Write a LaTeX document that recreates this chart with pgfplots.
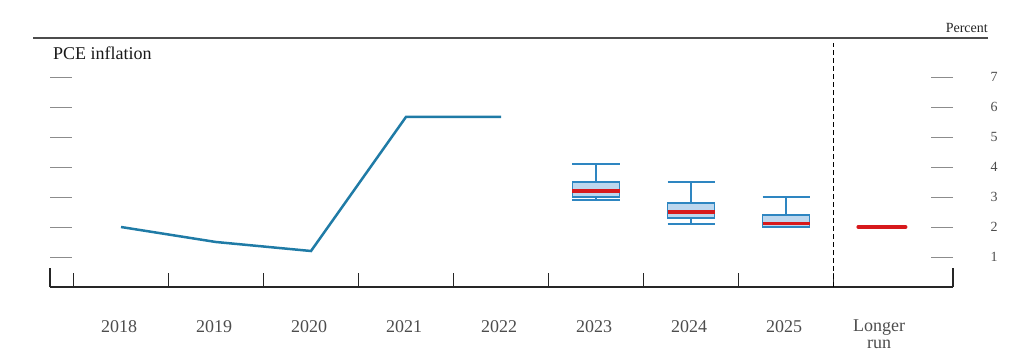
\documentclass[border=0pt]{standalone}
\usepackage{fontspec}
\setmainfont{Liberation Serif}
\usepackage{pgfplots}
\pgfplotsset{compat=1.18}
\usepgfplotslibrary{statistics}
\definecolor{lineblue}{HTML}{1F7BA6}
\definecolor{boxfill}{HTML}{BDD7EE}
\definecolor{boxedge}{HTML}{2E86C1}
\definecolor{medred}{HTML}{D7191C}
\definecolor{tickgray}{HTML}{8C8C8C}
\definecolor{labgray}{HTML}{4D4D4D}
\begin{document}
\begin{tikzpicture}
\useasboundingbox (0,0) rectangle (1024pt,362pt);
\draw[line width=1.2pt, black!70] (33pt,324pt) -- (988pt,324pt);
\node[anchor=base east, inner sep=0pt, font=\fontsize{14}{16}\selectfont, text=black!85] at (988pt,329pt) {Percent};
\node[anchor=base west, inner sep=0pt, font=\fontsize{18}{20}\selectfont, text=black!90] at (53pt,302pt) {PCE inflation};
\begin{axis}[
  at={(50pt,75pt)}, anchor=south west,
  scale only axis, width=903pt, height=249pt,
  xmin=-0.7474, xmax=8.7579, ymin=0, ymax=8.3,
  axis line style={draw=none},
  clip=false,
  /pgf/number format/assume math mode=true,
  ytick={1,2,3,4,5,6,7},
  ytick pos=both, yticklabel pos=right,
  tick align=inside, major tick length=22pt,
  ytick style={tickgray, line width=1pt},
  yticklabel style={font=\fontsize{14}{16}\selectfont, text=labgray, anchor=west, xshift=34pt},
  xtick={0,1,2,3,4,5,6,7,8},
  xticklabels={2018,2019,2020,2021,2022,2023,2024,2025,{Longer\\run}},
  xtick style={draw=none},
  xticklabel style={font=\fontsize{18}{17}\selectfont, text=labgray, align=center, anchor=north, inner sep=0pt, yshift=-33pt, xshift=-2pt},
  boxplot/draw direction=y,
  boxplot/every median/.style={draw=medred, line width=3.5pt},
]
% axis decorations
\draw[black!85, line width=1.5pt] (axis cs:-0.7474,0) -- (axis cs:8.7579,0);
\pgfplotsinvokeforeach{-0.5,0.5,1.5,2.5,3.5,4.5,5.5,6.5,7.5}{
  \draw[black!85, line width=1.5pt] (axis cs:#1,0) -- ++(0pt,14pt);
}
\draw[black!85, line width=1.5pt] (axis cs:-0.7474,0) -- ++(0pt,19pt);
\draw[black!85, line width=1.5pt] (axis cs:8.7579,0) -- ++(0pt,19pt);
\draw[black, line width=1.3pt, dash pattern=on 5pt off 3pt] (axis cs:7.5,0) -- (axis cs:7.5,8.13);

% history / median path
\addplot[lineblue, line width=2.5pt, mark=none] coordinates {(0,2.0) (1,1.5) (2,1.2) (3,5.67) (4,5.67)};

% projections
\addplot[draw=boxedge, fill=boxfill, line width=1.8pt, solid, mark=none,
  boxplot prepared={draw position=5, median=3.2, upper quartile=3.5, lower quartile=3.0,
  upper whisker=4.1, lower whisker=2.9, box extend=0.495, whisker extend=0.495}] coordinates {};
\addplot[draw=boxedge, fill=boxfill, line width=1.8pt, solid, mark=none,
  boxplot prepared={draw position=6, median=2.5, upper quartile=2.8, lower quartile=2.3,
  upper whisker=3.5, lower whisker=2.1, box extend=0.495, whisker extend=0.495}] coordinates {};
\addplot[draw=boxedge, fill=boxfill, line width=1.8pt, solid, mark=none,
  boxplot prepared={draw position=7, median=2.12, upper quartile=2.4, lower quartile=2.0,
  upper whisker=3.0, lower whisker=2.0, box extend=0.495, whisker extend=0.495}] coordinates {};

% longer run
\addplot[medred, line width=3.5pt, line cap=round, mark=none] coordinates {(7.76,2.0) (8.26,2.0)};
\end{axis}
\end{tikzpicture}
\end{document}
